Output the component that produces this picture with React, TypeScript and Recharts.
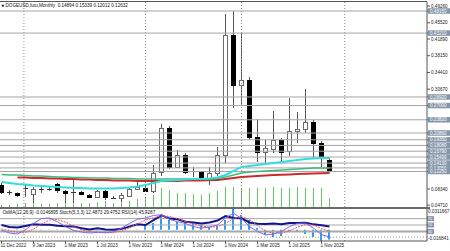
import React from 'react';
import { ComposedChart, Bar, Line, XAxis, YAxis, ReferenceLine } from 'recharts';

// bar index of each time label on the bottom axis
const tickIdx = [0, 4, 8, 12, 16, 20, 24, 28, 32, 36, 40];
const tickLabels = ['11 Dec 2022', '9 Jan 2023', '1 Mar 2023', '1 Jul 2023', '1 Nov 2023', '1 Mar 2024', '1 Jul 2024', '1 Nov 2024', '1 Mar 2025', '1 Jul 2025', '1 Nov 2025'];
// dotted vertical grid (in bar units)
const gridIdx = [2.8, 18, 30, 42.9];

const open = [0.0923, 0.0757, 0.0744, 0.0856, 0.0722, 0.0833, 0.0842, 0.0945, 0.0789, 0.0766, 0.0766, 0.0699, 0.0654, 0.0789, 0.0643, 0.0632, 0.0677, 0.0833, 0.0856, 0.0789, 0.1214, 0.2198, 0.1326, 0.1594, 0.1225, 0.1214, 0.1079, 0.1191, 0.1594, 0.4279, 0.3160, 0.3272, 0.1997, 0.1661, 0.1728, 0.1930, 0.1683, 0.2131, 0.2176, 0.2332, 0.1862, 0.14894];
const high = [0.0968, 0.0811, 0.0755, 0.0923, 0.0878, 0.0878, 0.0889, 0.0968, 0.0811, 0.1057, 0.0789, 0.0722, 0.0811, 0.0811, 0.0677, 0.0744, 0.0878, 0.1035, 0.0901, 0.1370, 0.2288, 0.2243, 0.1706, 0.1639, 0.1326, 0.1236, 0.1326, 0.1773, 0.4748, 0.4815, 0.4323, 0.3339, 0.2399, 0.1930, 0.2578, 0.1974, 0.2869, 0.2556, 0.3070, 0.2377, 0.1907, 0.15339];
const low = [0.0722, 0.0699, 0.0654, 0.0654, 0.0520, 0.0744, 0.0789, 0.0744, 0.0520, 0.0520, 0.0699, 0.0632, 0.0632, 0.0587, 0.0610, 0.0543, 0.0654, 0.0811, 0.0766, 0.0744, 0.1124, 0.1281, 0.1303, 0.1169, 0.1102, 0.1035, 0.0923, 0.1124, 0.1415, 0.2645, 0.2690, 0.1930, 0.1437, 0.1415, 0.1639, 0.1437, 0.1572, 0.1862, 0.2086, 0.1527, 0.1326, 0.12012];
const close = [0.0766, 0.0755, 0.0699, 0.0849, 0.0833, 0.0842, 0.0838, 0.0811, 0.0744, 0.0759, 0.0722, 0.0654, 0.0789, 0.0654, 0.0639, 0.0699, 0.0833, 0.0878, 0.0789, 0.1191, 0.2198, 0.1326, 0.1594, 0.1214, 0.1236, 0.1079, 0.1191, 0.1594, 0.4279, 0.3160, 0.3272, 0.1997, 0.1661, 0.1751, 0.1930, 0.1661, 0.2131, 0.2176, 0.2332, 0.1862, 0.1527, 0.12632];

const maCyan = [0.0990, 0.0968, 0.0945, 0.0934, 0.0912, 0.0901, 0.0889, 0.0878, 0.0867, 0.0856, 0.0856, 0.0845, 0.0845, 0.0845, 0.0845, 0.0856, 0.0867, 0.0889, 0.0923, 0.0968, 0.1012, 0.1024, 0.1035, 0.1046, 0.1057, 0.1057, 0.1068, 0.1091, 0.1147, 0.1236, 0.1326, 0.1348, 0.1370, 0.1393, 0.1415, 0.1437, 0.1460, 0.1482, 0.1505, 0.1516, 0.1527, 0.1527];
const maGreen = [0.1158, 0.1147, 0.1147, 0.1135, 0.1124, 0.1124, 0.1113, 0.1102, 0.1102, 0.1091, 0.1091, 0.1079, 0.1079, 0.1079, 0.1068, 0.1068, 0.1068, 0.1057, 0.1057, 0.1057, 0.1057, 0.1057, 0.1057, 0.1057, 0.1057, 0.1057, 0.1057, 0.1068, 0.1102, 0.1147, 0.1191, 0.1214, 0.1225, 0.1236, 0.1247, 0.1258, 0.1270, 0.1281, 0.1292, 0.1303, 0.1303, 0.1303];
const maRed = [null, null, 0.1091, 0.1091, 0.1079, 0.1079, 0.1068, 0.1068, 0.1057, 0.1057, 0.1046, 0.1046, 0.1035, 0.1035, 0.1024, 0.1024, 0.1024, 0.1012, 0.1012, 0.1012, 0.1012, 0.1012, 0.1012, 0.1024, 0.1024, 0.1024, 0.1035, 0.1035, 0.1057, 0.1079, 0.1102, 0.1113, 0.1124, 0.1135, 0.1147, 0.1153, 0.1160, 0.1169, 0.1176, 0.1182, 0.1187, 0.1191];

const volume = [10, 10, 15, 20, 20, 15, 15, 20, 24, 29, 20, 20, 24, 29, 20, 24, 29, 39, 44, 59, 93, 83, 68, 68, 63, 59, 68, 78, 98, 98, 93, 93, 93, 93, 98, 93, 93, 98, 93, 93, 93, 44];

// horizontal price levels drawn on the chart
const levels = [0.4815, 0.4321, 0.2892, 0.27, 0.2382, 0.2086, 0.1935, 0.1808, 0.1679, 0.1549, 0.1413, 0.1305, 0.1225];
const priceTicks = [0.4926, 0.4552, 0.4189, 0.3815, 0.3441, 0.3067, 0.0834, 0.0471];

const osma = [-0.0004, -0.0005, -0.0004, -0.0002, 0.0002, 0.0004, 0.0005, 0.0003, 0.0001, -0.0002, -0.0004, -0.0006, -0.0006, -0.0005, -0.0005, -0.0003, 0.0001, 0.0004, 0.0072, 0.0102, 0.0222, 0.0147, 0.0117, 0.0117, 0.0102, 0.0072, 0.0042, 0.006, 0.0147, 0.0311667, 0.0222, 0.0147, 0.0027, -0.0078, -0.0108, -0.0093, -0.0033, -0.0018, -0.0063, -0.0108, -0.016841, -0.0146895];
const stochMain = [34, 25, 22, 35, 55, 70, 72, 60, 45, 33, 28, 25, 27, 26, 28, 40, 55, 68, 72, 80, 82, 68, 60, 55, 45, 40, 44, 50, 72, 87, 70, 45, 30, 19, 22, 30, 45, 55, 56, 40, 20, 12.4873];
const stochSignal = [38, 32, 27, 27, 37, 53, 66, 67, 59, 46, 35, 29, 27, 26, 27, 31, 41, 54, 65, 73, 78, 77, 70, 61, 53, 47, 43, 45, 55, 70, 76, 67, 48, 31, 24, 24, 32, 43, 52, 50, 39, 29.4752];
const rsi = [50, 44, 42, 47, 52, 51, 51, 48, 46, 45, 40, 36, 40, 36, 35, 38, 45, 52, 50, 65, 80, 70, 68, 60, 58, 55, 58, 64, 78, 72, 71, 58, 54, 53, 55, 52, 56, 56, 57, 52, 49, 45.4287];
const subLevels = [70, 50, 30];
const subDotted = [12];
const osmaTicks = [0.0311667, -0.016841];

const data = open.map((o, i) => ({
  idx: i,
  open: o,
  high: high[i],
  low: low[i],
  close: close[i],
  range: [low[i], high[i]],
  maCyan: maCyan[i],
  maGreen: maGreen[i],
  maRed: maRed[i],
  vol: volume[i],
  osma: osma[i],
  stoch: stochMain[i],
  signal: stochSignal[i],
  rsi: rsi[i],
}));

const last = open.length - 1;
const FONT = '"Liberation Sans", Arial, sans-serif';
const X_DOMAIN: [number, number] = [-0.1875, 53.1875];

const renderCandle = (props: any) => {
  const { x, y, width, height, payload } = props;
  if (!payload || height == null || isNaN(y)) return <g />;
  const cx = Math.round(x + width / 2 - 0.5) + 0.5;
  const span = payload.high - payload.low;
  const k = span > 0 ? height / span : 0;
  const yO = y + (payload.high - payload.open) * k;
  const yC = y + (payload.high - payload.close) * k;
  const top = Math.round(Math.min(yO, yC)) + 0.5;
  const bot = Math.round(Math.max(yO, yC)) + 0.5;
  const up = payload.close >= payload.open;
  return (
    <g>
      <line x1={cx} x2={cx} y1={y} y2={y + height} stroke="#555" strokeWidth={1} />
      {bot - top < 1 ? (
        <line x1={cx - 2.5} x2={cx + 2.5} y1={top} y2={top} stroke="#333" />
      ) : (
        <rect x={cx - 2} y={top} width={4} height={bot - top} fill={up ? '#fff' : '#000'} stroke={up ? '#6a6a6a' : '#000'} strokeWidth={1} />
      )}
    </g>
  );
};

const renderVolume = (props: any) => {
  const { x, y, width, height } = props;
  if (height == null || isNaN(y)) return <g />;
  const cx = Math.round(x + width / 2 - 0.5) + 0.5;
  return <line x1={cx} x2={cx} y1={y} y2={y + height} stroke="#62c462" strokeWidth={1} />;
};

const renderHist = (props: any) => {
  const { x, y, width, height } = props;
  if (height == null || isNaN(y)) return <g />;
  const cx = Math.round(x + width / 2);
  const y1 = Math.min(y, y + height);
  const y2 = Math.max(y, y + height);
  return <line x1={cx} x2={cx} y1={y1} y2={y2} stroke="#2a9df4" strokeWidth={2} />;
};

const PriceTick = (props: any) => {
  const { x, y, payload } = props;
  const v = payload.value;
  const text = v.toFixed(5);
  if (levels.includes(v)) {
    return (
      <g>
        <rect x={x - 3} y={y - 2.75} width={23} height={5.5} fill="#8596aa" />
        <text x={x - 1} y={y + 1.65} fontSize={4.6} fill="#fff" fontFamily={FONT}>{text}</text>
      </g>
    );
  }
  return <text x={x} y={y + 1.65} fontSize={4.6} fill="#222" fontFamily={FONT}>{text}</text>;
};

const OsmaTick = (props: any) => {
  const { x, y, payload } = props;
  const v = payload.value;
  return (
    <text x={x} y={v > 0 ? y + 4 : y - 0.8} fontSize={4.6} fill="#222" fontFamily={FONT}>{String(v)}</text>
  );
};

const DateTick = (props: any) => {
  const { x, y, payload } = props;
  const label = tickLabels[tickIdx.indexOf(payload.value)];
  return <text x={Math.max(x - 1, 0.5)} y={y + 3.6} fontSize={4.6} fill="#222" fontFamily={FONT}>{label}</text>;
};

const levelTag = (value: number) => (p: any) => {
  const vb = p.viewBox;
  if (!vb) return null;
  const right = vb.x + vb.width;
  return (
    <g>
      <rect x={right} y={vb.y - 2.5} width={7} height={5} fill="#8596aa" />
      <text x={right + 0.8} y={vb.y + 1.4} fontSize={3.8} fill="#fff" fontFamily={FONT}>{value}</text>
    </g>
  );
};

export default function App() {
  const title = `DOGEUSD,futu,Monthly  ${open[last]} ${high[last]} ${low[last]} ${close[last]}`;
  const subTitle = `OsMA(12,26,9) ${osma[last]} Stoch(5,3,3) ${stochMain[last]} ${stochSignal[last]} RSI(14) ${rsi[last]}`;

  return (
    <div style={{ position: 'fixed', left: 0, top: 0, width: 450, height: 251, background: '#fff', overflow: 'hidden', fontFamily: FONT }}>
      {/* main price window */}
      <div style={{ position: 'absolute', left: 0, top: 0 }}>
        <ComposedChart width={450} height={207} data={data} margin={{ top: 2, right: 0, left: 0, bottom: 0 }}>
          <XAxis xAxisId="x" dataKey="idx" type="number" domain={X_DOMAIN} allowDataOverflow hide />
          <XAxis xAxisId="xv" dataKey="idx" type="number" domain={X_DOMAIN} allowDataOverflow hide />
          <YAxis
            yAxisId="p"
            orientation="right"
            width={23}
            type="number"
            domain={[0.04306, 0.50167]}
            allowDataOverflow
            ticks={[...priceTicks, ...levels]}
            interval={0}
            tick={<PriceTick />}
            tickSize={3}
            tickMargin={1}
            tickLine={{ stroke: '#555' }}
            axisLine={{ stroke: '#555' }}
          />
          <YAxis yAxisId="v" hide domain={[0, 1000]} allowDataOverflow />
          {gridIdx.map((g) => (
            <ReferenceLine key={'g' + g} xAxisId="x" yAxisId="p" x={g} stroke="#8c8c8c" strokeDasharray="1 2" />
          ))}
          {levels.map((v) => (
            <ReferenceLine key={'l' + v} xAxisId="x" yAxisId="p" y={v} stroke="#a4a4a4" />
          ))}
          <Bar xAxisId="xv" yAxisId="v" dataKey="vol" shape={renderVolume} isAnimationActive={false} />
          <Bar xAxisId="x" yAxisId="p" dataKey="range" shape={renderCandle} isAnimationActive={false} />
          <Line xAxisId="x" yAxisId="p" type="linear" dataKey="maRed" stroke="#cc2b2b" strokeWidth={2} dot={false} isAnimationActive={false} />
          <Line xAxisId="x" yAxisId="p" type="linear" dataKey="maGreen" stroke="#3dbb7e" strokeWidth={1.5} dot={false} isAnimationActive={false} />
          <Line xAxisId="x" yAxisId="p" type="linear" dataKey="maCyan" stroke="#33dddd" strokeWidth={2} dot={false} isAnimationActive={false} />
        </ComposedChart>
      </div>

      {/* frame lines */}
      <div style={{ position: 'absolute', left: 0, top: 1, width: 427, height: 1, background: '#555' }} />
      <div style={{ position: 'absolute', left: 0, top: 207, width: 430, height: 2, background: '#6a6a6a' }} />

      {/* indicator window */}
      <div style={{ position: 'absolute', left: 0, top: 208 }}>
        <ComposedChart width={450} height={43} data={data} margin={{ top: 1, right: 0, left: 0, bottom: 0 }}>
          <XAxis
            xAxisId="x"
            dataKey="idx"
            type="number"
            domain={X_DOMAIN}
            allowDataOverflow
            ticks={tickIdx}
            interval={0}
            height={10}
            tick={<DateTick />}
            tickSize={2}
            tickMargin={0}
            tickLine={{ stroke: '#555' }}
            axisLine={{ stroke: '#555' }}
          />
          <YAxis
            yAxisId="o"
            orientation="right"
            width={23}
            type="number"
            domain={[osmaTicks[1], osmaTicks[0]]}
            allowDataOverflow
            ticks={osmaTicks}
            interval={0}
            tick={<OsmaTick />}
            tickSize={0}
            tickMargin={1}
            tickLine={false}
            axisLine={{ stroke: '#555' }}
          />
          <YAxis yAxisId="r" hide domain={[0, 100]} allowDataOverflow />
          {gridIdx.map((g) => (
            <ReferenceLine key={'sg' + g} xAxisId="x" yAxisId="r" x={g} stroke="#8c8c8c" strokeDasharray="1 2" />
          ))}
          {subLevels.map((v) => (
            <ReferenceLine key={'sl' + v} xAxisId="x" yAxisId="r" y={v} stroke="#a8a8a8" strokeWidth={v === 30 ? 2 : 1} label={levelTag(v)} />
          ))}
          {subDotted.map((v) => (
            <ReferenceLine key={'sd' + v} xAxisId="x" yAxisId="r" y={v} stroke="#999" strokeDasharray="1 2" />
          ))}
          <Bar xAxisId="x" yAxisId="o" dataKey="osma" shape={renderHist} isAnimationActive={false} />
          <Line xAxisId="x" yAxisId="r" type="linear" dataKey="rsi" stroke="#14148c" strokeWidth={2} dot={false} isAnimationActive={false} />
          <Line xAxisId="x" yAxisId="r" type="linear" dataKey="signal" stroke="#f05a5a" strokeWidth={1} strokeDasharray="2 1" dot={false} isAnimationActive={false} />
          <Line xAxisId="x" yAxisId="r" type="linear" dataKey="stoch" stroke="#7b68ee" strokeWidth={1} dot={false} isAnimationActive={false} />
        </ComposedChart>
      </div>

      {/* window captions */}
      <div style={{ position: 'absolute', left: 1.5, top: 2.6, fontSize: 4.6, lineHeight: '5px', whiteSpace: 'pre', color: '#111' }}>
        <span style={{ fontFamily: '"DejaVu Sans"', fontSize: 3.6 }}>▼</span> {title}
      </div>
      <div style={{ position: 'absolute', left: 2.5, top: 210.3, fontSize: 4.6, lineHeight: '5px', whiteSpace: 'pre', color: '#111' }}>
        {subTitle}
      </div>
    </div>
  );
}
